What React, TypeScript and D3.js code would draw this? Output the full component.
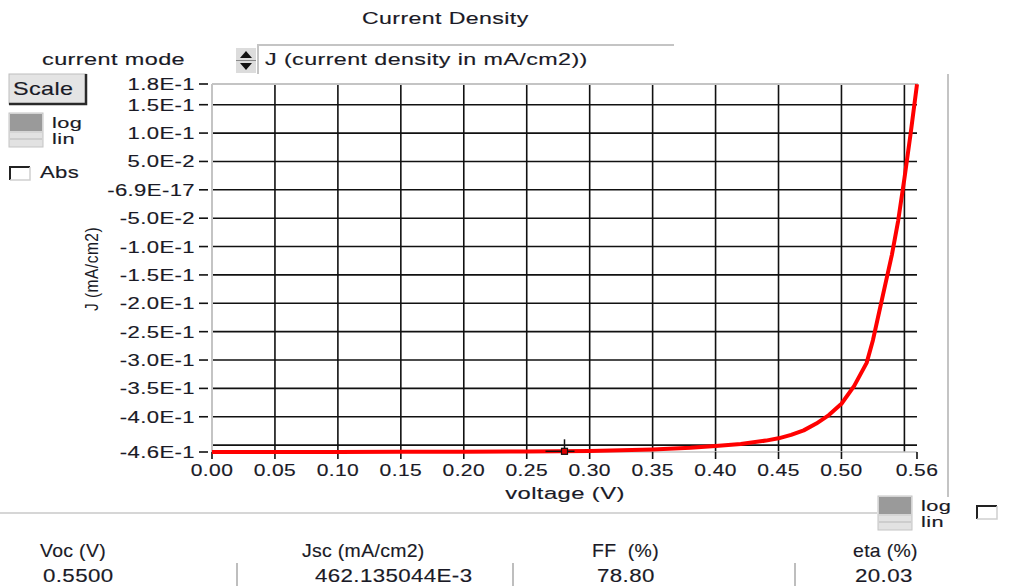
import React from "react";
import * as d3 from "d3";

// ---- data ----
const voltage = [0, 0.05, 0.10, 0.15, 0.20, 0.25, 0.30, 0.35, 0.38, 0.40, 0.42, 0.44, 0.45, 0.46, 0.47, 0.48, 0.49, 0.50, 0.51, 0.52, 0.525, 0.53, 0.535, 0.54, 0.545, 0.55, 0.555, 0.56];
const currentDensity = [-0.4621, -0.4620, -0.4619, -0.4617, -0.4615, -0.4612, -0.4603, -0.4575, -0.4545, -0.4515, -0.4480, -0.4420, -0.4380, -0.4320, -0.4240, -0.4120, -0.3970, -0.3770, -0.3460, -0.3050, -0.2650, -0.2150, -0.1650, -0.1150, -0.0550, 0.0200, 0.1000, 0.1860];

const yAxisMin = -0.4621;
const yAxisMax = 0.1865;
const yTickValues = [yAxisMax, 0.15, 0.10, 0.05, 0, -0.05, -0.10, -0.15, -0.20, -0.25, -0.30, -0.35, -0.40, yAxisMin];
const yTickLabels = ["1.8E-1", "1.5E-1", "1.0E-1", "5.0E-2", "-6.9E-17", "-5.0E-2", "-1.0E-1", "-1.5E-1", "-2.0E-1", "-2.5E-1", "-3.0E-1", "-3.5E-1", "-4.0E-1", "-4.6E-1"];
const yGridValues = [0.15, 0.10, 0.05, 0, -0.05, -0.10, -0.15, -0.20, -0.25, -0.30, -0.35, -0.40, -0.45];

const xAxisMin = 0;
const xAxisMax = 0.56;
const xTickValues = [0, 0.05, 0.10, 0.15, 0.20, 0.25, 0.30, 0.35, 0.40, 0.45, 0.50, 0.56];
const xTickLabels = ["0.00", "0.05", "0.10", "0.15", "0.20", "0.25", "0.30", "0.35", "0.40", "0.45", "0.50", "0.56"];
const xGridValues = [0.05, 0.10, 0.15, 0.20, 0.25, 0.30, 0.35, 0.40, 0.45, 0.50, 0.55];

const cursorVoltage = 0.28;
const cursorCurrent = -0.4609;

const statLabels = ["Voc (V)", "Jsc (mA/cm2)", "FF\u00a0 (%)", "eta (%)"];
const statValues = ["0.5500", "462.135044E-3", "78.80", "20.03"];

// ---- layout ----
const W = 1031;
const H = 586;
const plot = { left: 212, right: 917, top: 84, bottom: 452 };
const FONT = "'Liberation Sans', Arial, sans-serif";
const INK = "#1a1a26";

const x = d3.scaleLinear().domain([xAxisMin, xAxisMax]).range([plot.left, plot.right]);
const y = d3.scaleLinear().domain([yAxisMin, yAxisMax]).range([plot.bottom, plot.top]);

const pts: [number, number][] = voltage.map((v, i) => [v, currentDensity[i]]);
const linePath = d3
  .line<[number, number]>()
  .x((d) => x(d[0]))
  .y((d) => y(d[1]))(pts) as string;

type TProps = {
  x: number;
  y: number;
  size?: number;
  sx?: number;
  anchor?: "start" | "middle" | "end";
  spacing?: number;
  children: React.ReactNode;
};

function T({ x: tx, y: ty, size = 17, sx = 1.32, anchor = "start", spacing = 0.3, children }: TProps) {
  return (
    <g transform={`translate(${tx},${ty}) scale(${sx},1)`}>
      <text
        x={0}
        y={0}
        textAnchor={anchor}
        style={{ fontFamily: FONT, fontSize: size, letterSpacing: spacing, fill: INK, stroke: INK, strokeWidth: 0.15 }}
      >
        {children}
      </text>
    </g>
  );
}

function LogLinSwitch({ x0, y0 }: { x0: number; y0: number }) {
  return (
    <g>
      <rect x={x0} y={y0} width={34} height={34} fill="#e2e2e2" stroke="#c4c4c4" strokeWidth={1} />
      <rect x={x0 + 1} y={y0 + 1} width={32} height={17} fill="#9a9a9a" />
      <line x1={x0 + 1} x2={x0 + 33} y1={y0 + 19} y2={y0 + 19} stroke="#c8c8c8" />
      <line x1={x0 + 1} x2={x0 + 33} y1={y0 + 26} y2={y0 + 26} stroke="#b8b8b8" />
      <T x={x0 + 43} y={y0 + 15} size={14.5} sx={1.5}>log</T>
      <T x={x0 + 43} y={y0 + 31} size={14.5} sx={1.5}>lin</T>
    </g>
  );
}

function CheckBox({ x0, y0 }: { x0: number; y0: number }) {
  return (
    <g>
      <rect x={x0} y={y0} width={20} height={13} fill="#ffffff" />
      <path d={`M${x0},${y0 + 13} V${y0} H${x0 + 20}`} fill="none" stroke="#222" strokeWidth={2} />
      <path d={`M${x0 + 20},${y0} V${y0 + 13} H${x0}`} fill="none" stroke="#d0d0d0" strokeWidth={1.5} />
    </g>
  );
}

export default function App() {
  const cx = x(cursorVoltage);
  const cy = y(cursorCurrent);
  const statX = [40, 302, 592, 853];
  const valX = [43, 315, 597, 855];
  const sepX = [237, 513, 795];
  return (
    <svg
      width={W}
      height={H}
      viewBox={`0 0 ${W} ${H}`}
      style={{ position: "fixed", left: 0, top: 0, background: "#ffffff" }}
    >
      <rect x={0} y={0} width={W} height={H} fill="#ffffff" />

      {/* title */}
      <T x={362} y={24} sx={1.36}>Current Density</T>

      {/* current mode ring control */}
      <T x={42} y={65} sx={1.38}>current mode</T>
      <rect x={236} y={48} width={20} height={25} fill="#dcdcdc" />
      <line x1={236} x2={256} y1={60.5} y2={60.5} stroke="#888" strokeWidth={1} />
      <path d="M240,58 L246,51 L252,58 Z" fill="#111" />
      <path d="M240,63 L246,70 L252,63 Z" fill="#111" />
      <line x1={258} x2={258} y1={44} y2={74} stroke="#c4c4c4" strokeWidth={2} />
      <line x1={258} x2={674} y1={45} y2={45} stroke="#c4c4c4" strokeWidth={2} />
      <T x={265} y={65} sx={1.37}>J (current density in mA/cm2))</T>

      {/* Scale button */}
      <rect x={9} y={74} width={77} height={30} fill="#e4e4e4" stroke="#bdbdbd" strokeWidth={1} />
      <path d="M86,74 V104 H9" fill="none" stroke="#2a2a2a" strokeWidth={2.5} />
      <T x={13} y={95} size={18} sx={1.3}>Scale</T>

      <LogLinSwitch x0={9} y0={113} />
      <CheckBox x0={10} y0={167} />
      <T x={40} y={178} sx={1.3}>Abs</T>

      {/* y axis title */}
      <text
        transform={`translate(98,269) scale(1.2,1) rotate(-90)`}
        textAnchor="middle"
        style={{ fontFamily: FONT, fontSize: 15.5, letterSpacing: 0.5, fill: INK }}
      >
        J (mA/cm2)
      </text>

      {/* grid */}
      {xGridValues.map((v) => (
        <line key={"gx" + v} x1={x(v)} x2={x(v)} y1={plot.top} y2={plot.bottom} stroke="#111" strokeWidth={1.6} />
      ))}
      {yGridValues.map((v) => (
        <line key={"gy" + v} x1={plot.left} x2={plot.right} y1={y(v)} y2={y(v)} stroke="#111" strokeWidth={1.6} />
      ))}

      {/* frame */}
      <line x1={plot.left} x2={plot.right + 1} y1={plot.top} y2={plot.top} stroke="#c4c4c4" strokeWidth={2} />
      <line x1={plot.left} x2={plot.left} y1={plot.top} y2={plot.bottom} stroke="#c4c4c4" strokeWidth={2} />
      <line x1={plot.left} x2={plot.right} y1={plot.bottom} y2={plot.bottom} stroke="#c4c4c4" strokeWidth={1.5} />

      {/* y ticks */}
      {yTickValues.map((v, i) => (
        <g key={"ty" + i}>
          <line x1={199} x2={208} y1={y(v)} y2={y(v)} stroke="#111" strokeWidth={1.6} />
          <T x={195} y={y(v) + 6} anchor="end" sx={1.3}>
            {yTickLabels[i]}
          </T>
        </g>
      ))}

      {/* x ticks */}
      {xTickValues.map((v, i) => (
        <g key={"tx" + i}>
          <line x1={x(v)} x2={x(v)} y1={plot.bottom} y2={plot.bottom + 7} stroke="#111" strokeWidth={1.6} />
          <T x={x(v)} y={476} anchor="middle" sx={1.24}>
            {xTickLabels[i]}
          </T>
        </g>
      ))}
      <T x={565} y={499} anchor="middle" sx={1.4}>voltage (V)</T>

      {/* curve */}
      <path d={linePath} fill="none" stroke="#ff0000" strokeWidth={4} strokeLinejoin="round" />

      {/* cursor */}
      <line x1={cx - 19} x2={cx + 10} y1={cy} y2={cy} stroke="#111" strokeWidth={1.5} />
      <line x1={cx} x2={cx} y1={cy - 12} y2={cy} stroke="#111" strokeWidth={1.5} />
      <rect x={cx - 3} y={cy - 3} width={6} height={6} fill="#e00000" stroke="#111" strokeWidth={1.2} />

      {/* panel separators */}
      <line x1={948} x2={948} y1={74} y2={497} stroke="#c4c4c4" strokeWidth={2} />
      <line x1={0} x2={877} y1={513} y2={513} stroke="#c8c8c8" strokeWidth={1.5} />

      <LogLinSwitch x0={878} y0={496} />
      <CheckBox x0={977} y0={506} />

      {/* stats */}
      {statLabels.map((s, i) => (
        <T key={"sl" + i} x={statX[i]} y={557} size={18} sx={1.08}>{s}</T>
      ))}
      {statValues.map((s, i) => (
        <T key={"sv" + i} x={valX[i]} y={582} size={18} sx={1.24}>{s}</T>
      ))}
      {sepX.map((sx) => (
        <line key={"sep" + sx} x1={sx} x2={sx} y1={563} y2={586} stroke="#a8a8a8" strokeWidth={1.5} />
      ))}
    </svg>
  );
}
